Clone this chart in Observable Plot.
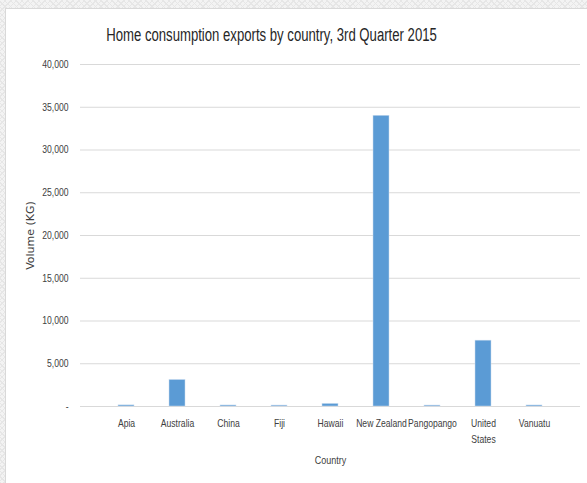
<!DOCTYPE html>
<html>
<head>
<meta charset="utf-8">
<script src="https://cdn.jsdelivr.net/npm/d3@7"></script>
<script src="https://cdn.jsdelivr.net/npm/@observablehq/plot@0.6"></script>
<style>
  html, body { margin: 0; padding: 0; }
  body {
    width: 587px; height: 483px; overflow: hidden; position: relative;
    background-color: #f3f3f3;
    background-image: repeating-linear-gradient(45deg, #e6e6e6 0 1px, transparent 1px 4px),
                      repeating-linear-gradient(-45deg, #e6e6e6 0 1px, transparent 1px 4px);
  }
  #card {
    position: absolute; left: 5px; top: 8px; width: 590px; height: 480px;
    background: #fff; border: 1px solid #d9d9d9; box-sizing: border-box;
  }
  #title {
    position: absolute; left: 0; top: 25px; width: 543px; text-align: center;
    font-family: "Liberation Sans", "DejaVu Sans", sans-serif;
    font-size: 18px; color: #262626; white-space: nowrap;
    transform: scaleX(0.73); transform-origin: 50% 0;
  }
  #chart { position: absolute; left: 0; top: 0; }
</style>
</head>
<body>
<div id="card"></div>
<div id="chart"></div>
<div id="title">Home consumption exports by country, 3rd Quarter 2015</div>
<script>
const countries = ["Apia", "Australia", "China", "Fiji", "Hawaii", "New Zealand", "Pangopango", "United States", "Vanuatu"];
const volumes = [130, 3100, 120, 110, 300, 34000, 110, 7700, 120];
const yTicks = [0, 5000, 10000, 15000, 20000, 25000, 30000, 35000, 40000];
const xTickLabels = {"United States": "United\nStates"};

const data = countries.map((c, i) => ({country: c, volume: volumes[i]}));
const fmt = d3.format(",");

const chart = Plot.plot({
  width: 587,
  height: 483,
  marginTop: 64,
  marginBottom: 77,
  marginLeft: 80,
  marginRight: 7,
  style: {
    background: "transparent",
    fontFamily: "'Liberation Sans', 'DejaVu Sans', sans-serif",
    fontSize: "10.5px",
    color: "#404040"
  },
  x: { domain: countries, padding: 0.68, label: null },
  y: { domain: [0, 40000], label: null },
  marks: [
    Plot.gridY(yTicks, { stroke: "#d9d9d9", strokeOpacity: 1 }),
    Plot.ruleY([0], { stroke: "#d9d9d9", strokeWidth: 1 }),
    Plot.barY(data, { x: "country", y: "volume", fill: "#5b9bd5", stroke: "#c9dcef", strokeWidth: 0.5 }),
    Plot.axisY(yTicks, {
      tickSize: 0, tickPadding: 12,
      tickFormat: d => d === 0 ? "-" : fmt(d),
      fill: "#404040",
      label: null,
      className: "narrow"
    }),
    Plot.axisX({
      tickSize: 0, tickPadding: 10,
      tickFormat: d => xTickLabels[d] || d,
      fill: "#404040",
      lineHeight: 1.45,
      label: null,
      className: "narrow"
    }),
    Plot.text(["Country"], {
      frameAnchor: "bottom", dy: 57, fill: "#404040", fontSize: 11,
      className: "narrow"
    }),
    Plot.text(["Volume (KG)"], {
      frameAnchor: "left", dx: -50, rotate: -90, textAnchor: "middle", fill: "#404040", fontSize: 11,
      fontFamily: "'DejaVu Sans', sans-serif",
      style: {letterSpacing: "0.4px"}
    })
  ]
});
// condense labels horizontally to mimic a narrow font
chart.querySelectorAll("g[class*='narrow'] text").forEach(t => {
  const tr = t.getAttribute("transform") || "";
  t.setAttribute("transform", tr + " scale(0.82,1)");
});
document.getElementById("chart").appendChild(chart);
</script>
</body>
</html>
